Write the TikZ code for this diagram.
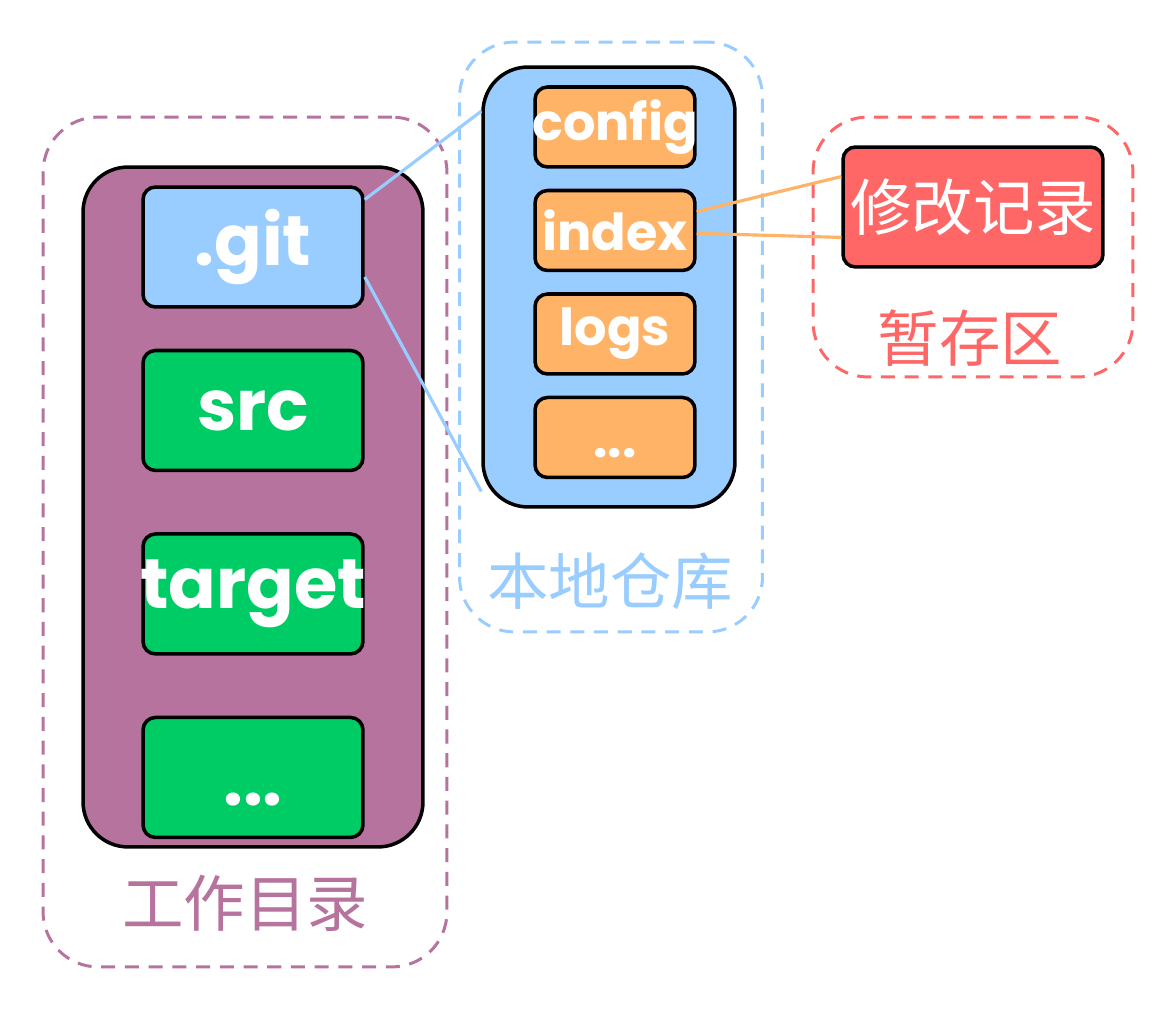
\documentclass[tikz,border=0pt]{standalone}
\usepackage{fontspec}
\usepackage{tikz}
\usetikzlibrary{positioning}
\newfontfamily\cjk{Noto Sans CJK SC}
\newfontfamily\comic{Poppins}
\definecolor{purp}{HTML}{B5739D}
\definecolor{sky}{HTML}{99CCFF}
\definecolor{grn}{HTML}{00CC66}
\definecolor{ora}{HTML}{FFB366}
\definecolor{rd}{HTML}{FF6666}
\tikzset{
  zone/.style={draw,line width=1.7pt,dash pattern=on 8pt off 5.5pt,rounded corners=1.1cm,inner sep=0pt},
  holder/.style={draw=black,line width=2pt,rounded corners=0.9cm,inner sep=0pt},
  item/.style={draw=black,line width=2pt,rounded corners=0.25cm,text=white,inner sep=0pt,font=\comic\bfseries\fontsize{40}{40}\selectfont},
  small/.style={item,minimum width=3.2cm,minimum height=1.6cm,fill=ora,font=\comic\bfseries\fontsize{29}{29}\selectfont},
  big/.style={item,minimum width=4.4cm,minimum height=2.4cm,fill=grn},
  caption/.style={font=\cjk\fontsize{35}{35}\selectfont},
  link/.style={line width=1.8pt}
}
\begin{document}
\begin{tikzpicture}
[x=0.02cm,y=-0.02cm,node distance=0.4cm and 1cm]
            \useasboundingbox (0,0) rectangle (1174,1010);
            % working directory
            \node[zone,draw=purp,minimum width=8.08cm,minimum height=17cm] (wz) at (245,542) {};
            \node[holder,fill=purp,minimum width=6.8cm,minimum height=13.6cm] (wd) at (253,507) {};
            \node[big,fill=sky] (git) at (253,247) {.git};
            \node[big] (src) [below=0.8cm of git] {src};
            \node[big] (tgt) [below=1.2cm of src] {\makebox[0pt]{target}};
            \node[big] (more) [below=1.2cm of tgt] {\raisebox{-0.56cm}[0pt][0pt]{...}};
            \node[caption,text=purp] (wl) at (245,903) {工作目录};
            % local repository
            \node[zone,draw=sky,minimum width=6.06cm,minimum height=11.8cm] (rz) at (611,337) {};
            \node[holder,fill=sky,minimum width=5.04cm,minimum height=8.8cm] (repo) at (609,287) {};
            \node[small] (cfg) at (615,127) {\makebox[0pt]{config}};
            \node[small] (idx) [below=of cfg] {index};
            \node[small] (logs) [below=of idx] {logs};
            \node[small] (etc) [below=of logs] {\raisebox{-0.4cm}[0pt][0pt]{...}};
            \node[caption,text=sky] (rl) at (610,581) {本地仓库};
            % stage
            \node[zone,draw=rd,minimum width=6.4cm,minimum height=5.2cm] (sz) at (973,247) {};
            \node[item,fill=rd,minimum width=5.2cm,minimum height=2.4cm,font=\cjk\fontsize{35}{35}\selectfont] (mod) at (973,207) {修改记录};
            \node[caption,text=rd] (sl) at (970,338) {暂存区};
            \draw[link,sky] (git.23) -- (repo.126);
            \draw[link,sky] (git.-15) -- (repo.238);
            \draw[link,ora] (idx.13) -- (mod.167);
            \draw[link,ora] (idx.-2) -- (mod.193);
\end{tikzpicture}
\end{document}
